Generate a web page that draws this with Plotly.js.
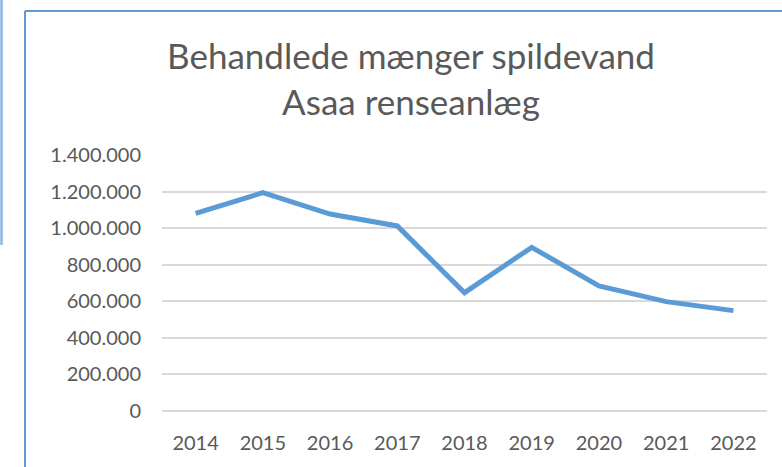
<!DOCTYPE html>
<html>
<head>
<meta charset="utf-8">
<script src="https://cdn.plot.ly/plotly-3.0.1.min.js"></script>
<style>html,body{margin:0;padding:0;background:#fff;}#chart{width:782px;height:467px;}</style>
</head>
<body>
<div id="chart"></div>
<script>
const years = ["2014","2015","2016","2017","2018","2019","2020","2021","2022"];
const volumes = [1081000, 1194000, 1077000, 1012000, 647000, 895000, 684000, 598000, 549000];
const yTicks = [0, 200000, 400000, 600000, 800000, 1000000, 1200000, 1400000];
const yTickLabels = ["0","200.000","400.000","600.000","800.000","1.000.000","1.200.000","1.400.000"];
const titleLines = ["Behandlede mænger spildevand", "Asaa renseanlæg"];

const W = 782, H = 467;
const m = {l:162, r:15, t:155, b:56};
const pw = W - m.l - m.r, ph = H - m.t - m.b;
const px = x => (x - m.l) / pw;
const py = y => (H - m.b - y) / ph;

const trace = {
  x: years, y: volumes, type: 'scatter', mode: 'lines',
  line: {color: '#5B9BD5', width: 5, shape: 'linear'},
  hoverinfo: 'skip'
};

const layout = {
  width: W, height: H,
  margin: m,
  paper_bgcolor: '#ffffff', plot_bgcolor: '#ffffff',
  font: {family: 'Lato, "Open Sans", sans-serif', color: '#595959'},
  showlegend: false,
  title: {
    text: titleLines.join('<br>'),
    font: {size: 35, color: '#595959', family: 'Lato, "Open Sans", sans-serif'},
    x: 411 / W, xanchor: 'center', xref: 'container',
    y: 1 - 69 / H, yanchor: 'middle', yref: 'container'
  },
  xaxis: {
    type: 'category', showgrid: false, zeroline: false, showline: false,
    ticks: '', tickfont: {size: 20, color: '#595959'},
    ticklabelstandoff: 18,
    range: [-0.5, years.length - 0.5], fixedrange: true
  },
  yaxis: {
    range: [0, 1400000], tickvals: yTicks, ticktext: yTickLabels,
    showgrid: true, gridcolor: '#D9D9D9', gridwidth: 2,
    zeroline: true, zerolinecolor: '#D9D9D9', zerolinewidth: 2,
    showline: false, ticks: '', tickfont: {size: 20, color: '#595959'},
    ticklabelstandoff: 20, fixedrange: true
  },
  shapes: [
    {type:'line', xref:'paper', yref:'paper', x0:px(25), x1:px(790), y0:py(11), y1:py(11), line:{color:'#5B9BD5', width:2}},
    {type:'line', xref:'paper', yref:'paper', x0:px(25), x1:px(25), y0:py(11), y1:py(470), line:{color:'#5B9BD5', width:2}},
    {type:'line', xref:'paper', yref:'paper', x0:px(1.5), x1:px(1.5), y0:py(-2), y1:py(245), line:{color:'#8DB4E2', width:2.5}}
  ]
};

Plotly.newPlot('chart', [trace], layout, {displayModeBar: false, staticPlot: true});
</script>
</body>
</html>
